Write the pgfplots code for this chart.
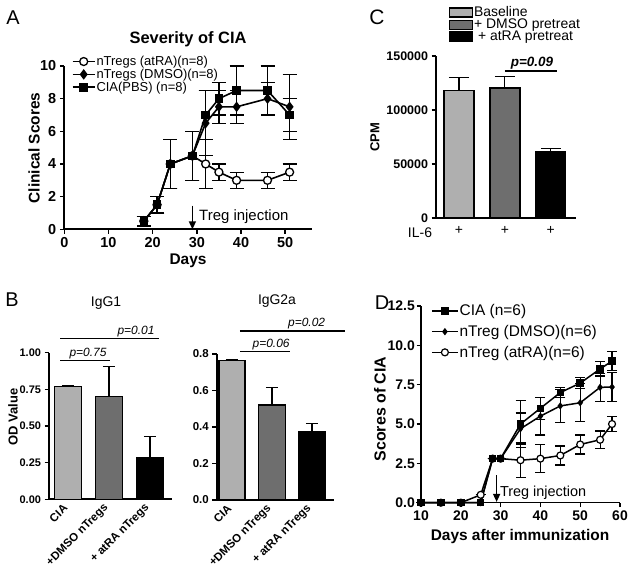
\documentclass[border=0pt]{standalone}
\usepackage{pgfplots}
\pgfplotsset{compat=1.18}
\usepackage{fontspec}
\setmainfont{Liberation Sans}
\usetikzlibrary{arrows.meta}
\newcommand{\fs}[1]{\fontsize{#1}{#1}\selectfont}
\definecolor{lightbar}{RGB}{175,175,175}
\definecolor{darkbar}{RGB}{110,110,110}
\pgfplotsset{
  panel/.style={scale only axis, clip=false, anchor=south west,
    axis x line=bottom, axis y line=left,
    axis line style={-, line width=1.6bp},
    tick align=outside, major tick length=4.5bp,
    every tick/.append style={line width=1.4bp, black},
    /pgf/number format/assume math mode=true},
  ebar/.style 2 args={error bars/.cd, y dir=#1, y explicit,
    error bar style={line width=1.2bp, black, solid},
    error mark options={rotate=90, mark size=#2, line width=1.2bp, black, solid}},
  barstyle/.style={ybar, bar shift=0pt, draw=black, line width=1.3bp},
}
\begin{document}
\begin{tikzpicture}
\path[use as bounding box] (0,0) rectangle (636bp,572bp);

% ---------------- Panel A ----------------
\node[font=\fs{20}] at (13bp,554bp) {A};
\node[font=\bfseries\fs{16.5}] at (188bp,533bp) {Severity of CIA};
\node[font=\bfseries\fs{15.5}] at (188bp,311bp) {Days};
\node[font=\bfseries\fs{15.5}, rotate=90] at (34bp,424bp) {Clinical Scores};
\begin{axis}[panel, at={(64.3bp,342.7bp)}, width=247.4bp, height=163.3bp,
  xmin=0, xmax=56, ymin=0, ymax=10,
  xtick={0,10,20,30,40,50}, ytick={0,2,4,6,8,10},
  tick label style={font=\bfseries\fs{14.5}},
  legend style={draw=none, fill=none, at={(0.03,1.068)}, anchor=north west,
    font=\fs{13}, inner sep=0pt, row sep=0bp, nodes={inner sep=1bp}},
  legend cell align=left,
  legend image code/.code={\draw[#1, mark repeat=2, mark phase=2] plot coordinates {(0bp,0bp)(11bp,0bp)(22bp,0bp)};}]
\addplot[black, line width=1.6bp, mark=*, mark size=4bp, mark options={fill=white, line width=1.3bp}, ebar={both}{7bp}]
  coordinates {(18,0.5)+-(0,0.3) (21,1.5)+-(0,0.5) (24,4)+-(0,1.5) (29,4.5)+-(0,1.5)
   (32,4)+-(0,1.5) (35,3.5)+-(0,0.5) (39,3)+-(0,0.5) (46,3)+-(0,0.5) (51,3.5)+-(0,0.5)};
\addlegendentry{nTregs (atRA)(n=8)}
\addplot[black, line width=1.6bp, mark=diamond*, mark size=4bp, ebar={both}{7bp}]
  coordinates {(18,0.5)+-(0,0.3) (21,1.5)+-(0,0.5) (24,4)+-(0,1.5) (29,4.5)+-(0,1.5)
   (32,6.5)+-(0,2) (35,7.5)+-(0,1) (39,7.5)+-(0,1) (46,8)+-(0,1) (51,7.5)+-(0,2)};
\addlegendentry{nTregs (DMSO)(n=8)}
\addplot[black, line width=1.6bp, mark=square*, mark size=3.5bp, ebar={both}{7bp}]
  coordinates {(18,0.5)+-(0,0.3) (21,1.5)+-(0,0.5) (24,4)+-(0,1.5) (29,4.5)+-(0,1.5)
   (32,7)+-(0,1.5) (35,8)+-(0,1) (39,8.5)+-(0,1.5) (46,8.5)+-(0,1.5) (51,7)+-(0,1)};
\addlegendentry{CIA(PBS) (n=8)}
\draw[line width=1.5bp, -{Triangle[width=7bp,length=8bp]}] (axis cs:29,1.45) -- (axis cs:29,0);
\node[anchor=west, font=\fs{15}, inner sep=0pt] at (axis cs:30.5,0.8) {Treg injection};
\end{axis}

% ---------------- Panel C ----------------
\node[font=\fs{21}] at (377bp,555bp) {C};
\node[font=\bfseries\fs{13}, rotate=90] at (375bp,435bp) {CPM};
\node[font=\fs{14}] at (420bp,339bp) {IL-6};
\begin{axis}[panel, at={(436bp,354bp)}, width=140bp, height=162bp,
  xmin=0.5, xmax=3.55, ymin=0, ymax=150000,
  xtick={1,2,3}, xticklabels={+,+,+}, x tick style={draw=none},
  ytick={0,50000,100000,150000}, scaled y ticks=false,
  yticklabel style={/pgf/number format/.cd, fixed, precision=0, 1000 sep={}},
  tick label style={font=\bfseries\fs{12.5}},
  xticklabel style={font=\fs{14}},
  legend style={draw=none, fill=none, at={(0.09,1.312)}, anchor=north west,
    font=\fs{14}, inner sep=0pt, row sep=-1.2bp, nodes={inner sep=1bp}},
  legend cell align=left,
  legend image code/.code={\draw[#1, line width=1.3bp] (0bp,-4.5bp) rectangle (23bp,4.5bp);}]
\addplot[barstyle, fill=lightbar, bar width=30bp, ebar={plus}{10bp}]
  coordinates {(1,118000)+-(0,12000)};
\addlegendentry{Baseline}
\addplot[barstyle, fill=darkbar, bar width=30bp, ebar={plus}{10bp}]
  coordinates {(2,120500)+-(0,10500)};
\addlegendentry{+ DMSO pretreat}
\addplot[barstyle, fill=black, bar width=30bp, ebar={plus}{10bp}]
  coordinates {(3,61500)+-(0,3000)};
\addlegendentry{\hspace{4bp}+ atRA pretreat}
\draw[line width=1.3bp] (axis cs:2.0,136100) -- (axis cs:3.13,136100);
\node[anchor=south, font=\bfseries\itshape\fs{13.5}, inner sep=1.5bp] at (axis cs:2.59,136100) {p=0.09};
\end{axis}

% ---------------- Panel B ----------------
\node[font=\fs{20}] at (12bp,272bp) {B};
\node[font=\fs{14}] at (106bp,269bp) {IgG1};
\node[font=\fs{14}] at (277bp,271bp) {IgG2a};
\node[font=\bfseries\fs{13}, rotate=90] at (13bp,155bp) {OD Value};
\begin{axis}[panel, at={(49bp,72.7bp)}, width=122.7bp, height=146.6bp,
  xmin=0.54, xmax=3.53, ymin=0, ymax=1,
  xtick={1,2,3}, xticklabels={CIA,+DMSO nTregs,+ atRA nTregs}, x tick style={draw=none},
  ytick={0,0.25,0.5,0.75,1},
  yticklabel style={/pgf/number format/.cd, fixed, fixed zerofill, precision=2},
  tick label style={font=\bfseries\fs{11}},
  xticklabel style={rotate=45, anchor=east, font=\bfseries\fs{11.5}}]
\addplot[barstyle, fill=lightbar, bar width=27bp, ebar={plus}{6bp}] coordinates {(1,0.77)+-(0,0.004)};
\addplot[barstyle, fill=darkbar, bar width=27bp, ebar={plus}{6bp}] coordinates {(2,0.70)+-(0,0.205)};
\addplot[barstyle, fill=black, bar width=27bp, ebar={plus}{6bp}] coordinates {(3,0.284)+-(0,0.145)};
\draw[line width=1.3bp] (axis cs:0.81,1.098) -- (axis cs:3.22,1.098);
\node[anchor=south east, font=\itshape\fs{12}, inner sep=1.5bp] at (axis cs:3.15,1.098) {p=0.01};
\draw[line width=1.3bp] (axis cs:0.81,0.945) -- (axis cs:2.03,0.945);
\node[anchor=south, font=\itshape\fs{12}, inner sep=1.5bp] at (axis cs:1.49,0.945) {p=0.75};
\end{axis}
\begin{axis}[panel, at={(216.7bp,72bp)}, width=117.3bp, height=146bp,
  xmin=0.62, xmax=3.55, ymin=0, ymax=0.8,
  xtick={1,2,3}, xticklabels={CIA,+DMSO nTregs,+ atRA nTregs}, x tick style={draw=none},
  ytick={0,0.2,0.4,0.6,0.8},
  yticklabel style={/pgf/number format/.cd, fixed, fixed zerofill, precision=1},
  tick label style={font=\bfseries\fs{11.5}},
  xticklabel style={rotate=45, anchor=east, font=\bfseries\fs{11.5}}]
\addplot[barstyle, fill=lightbar, bar width=26bp, ebar={plus}{6bp}] coordinates {(1,0.765)+-(0,0.004)};
\addplot[barstyle, fill=darkbar, bar width=27bp, ebar={plus}{6bp}] coordinates {(2,0.52)+-(0,0.095)};
\addplot[barstyle, fill=black, bar width=27bp, ebar={plus}{6bp}] coordinates {(3,0.372)+-(0,0.048)};
\draw[line width=1.3bp] (axis cs:1.20,0.926) -- (axis cs:3.83,0.926);
\node[anchor=south east, font=\itshape\fs{12}, inner sep=1.5bp] at (axis cs:3.37,0.926) {p=0.02};
\draw[line width=1.3bp] (axis cs:1.20,0.8126) -- (axis cs:2.45,0.8126);
\node[anchor=south, font=\itshape\fs{12}, inner sep=1.5bp] at (axis cs:1.98,0.8126) {p=0.06};
\end{axis}

% ---------------- Panel D ----------------
\node[font=\fs{20}] at (382bp,269bp) {D};
\node[font=\bfseries\fs{16}, rotate=90] at (380bp,163bp) {Scores of CIA};
\node[font=\bfseries\fs{15.5}] at (520bp,35bp) {Days after immunization};
\begin{axis}[panel, at={(421bp,69.3bp)}, width=199bp, height=196.7bp,
  xmin=10, xmax=60, ymin=0, ymax=12.5,
  xtick={10,20,30,40,50,60}, ytick={0,2.5,5,7.5,10,12.5},
  yticklabel style={inner sep=1.5bp, /pgf/number format/.cd, fixed, fixed zerofill, precision=1},
  tick label style={font=\bfseries\fs{14}},
  reverse legend,
  legend style={draw=none, fill=none, at={(0.05,1.013)}, anchor=north west,
    font=\fs{15.5}, inner sep=0pt, row sep=6bp, nodes={inner sep=1bp}},
  legend cell align=left,
  legend image code/.code={\draw[#1, mark repeat=2, mark phase=2] plot coordinates {(0bp,0bp)(13bp,0bp)(26bp,0bp)};}]
\addplot[black, line width=1.5bp, mark=*, mark size=3.5bp, mark options={fill=white, line width=1.2bp}, ebar={both}{5bp}]
  coordinates {(10,0)+-(0,0) (15,0)+-(0,0) (20,0)+-(0,0) (25,0.5)+-(0,0) (28,2.8)+-(0,0) (30,2.8)+-(0,0)
   (35,2.7)+-(0,1.1) (40,2.8)+-(0,0.9) (45,3.0)+-(0,0.6) (50,3.7)+-(0,0.6) (55,4.0)+-(0,0.55) (58,5.0)+-(0,0.5)};
\addlegendentry{nTreg (atRA)(n=6)}
\addplot[black, line width=1.5bp, mark=diamond*, mark size=2.5bp, ebar={both}{5bp}]
  coordinates {(10,0)+-(0,0) (15,0)+-(0,0) (20,0)+-(0,0) (25,0)+-(0,0) (28,2.8)+-(0,0) (30,2.8)+-(0,0)
   (35,4.7)+-(0,1.0) (40,5.5)+-(0,1.2) (45,6.15)+-(0,1.05) (50,6.35)+-(0,1.2) (55,7.33)+-(0,0.9) (58,7.35)+-(0,0.9)};
\addlegendentry{nTreg (DMSO)(n=6)}
\addplot[black, line width=1.5bp, mark=square*, mark size=3bp, ebar={both}{5bp}]
  coordinates {(10,0)+-(0,0) (15,0)+-(0,0) (20,0)+-(0,0) (25,0)+-(0,0) (28,2.8)+-(0,0) (30,2.8)+-(0,0)
   (35,5.0)+-(0,1.5) (40,6.0)+-(0,0.7) (45,7.0)+-(0,0.3) (50,7.6)+-(0,0.35) (55,8.5)+-(0,0.45) (58,9.0)+-(0,0.6)};
\addlegendentry{CIA (n=6)}
\draw[line width=1.5bp, -{Triangle[width=7bp,length=8bp]}] (axis cs:29,1.75) -- (axis cs:29,0.05);
\node[anchor=west, font=\fs{14.5}, inner sep=0pt] at (axis cs:29.8,0.65) {Treg injection};
\end{axis}
\end{tikzpicture}
\end{document}
